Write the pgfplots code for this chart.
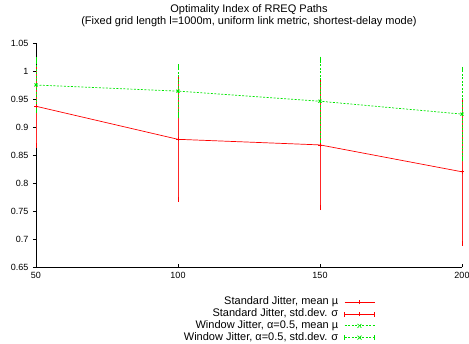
\documentclass[border=0pt]{standalone}
\usepackage{fontspec}
\setmainfont{Liberation Sans}
\usepackage{pgfplots}
\pgfplotsset{compat=1.18}
\definecolor{gred}{RGB}{255,0,0}
\definecolor{ggreen}{RGB}{0,230,0}
\begin{document}
\begin{tikzpicture}[x=1pt,y=1pt]
\useasboundingbox (-36,-77) rectangle (433,267);
\begin{axis}[
  at={(0,0)}, anchor=south west,
  scale only axis, width=426pt, height=224pt,
  xmin=50, xmax=200, ymin=0.65, ymax=1.05,
  axis lines*=left,
  axis line style={black, line width=0.8pt, -},
  xtick={50,100,150,200},
  ytick={0.65,0.7,0.75,0.8,0.85,0.9,0.95,1,1.05},
  yticklabels={0.65,0.7,0.75,0.8,0.85,0.9,0.95,1,1.05},
  xtick align=inside, ytick align=outside,
  major tick length=3pt,
  tick style={black, line width=0.5pt},
  ticklabel style={font=\fontsize{9}{10}\selectfont},
  /pgf/number format/assume math mode=true,
  xticklabel style={yshift=-2pt},
  yticklabel style={xshift=-1pt},
  title={Optimality Index of RREQ Paths\\(Fixed grid length l=1000m, uniform link metric, shortest-delay mode)},
  title style={align=center, font=\fontsize{11}{12}\selectfont, yshift=7pt},
  clip=false,
  legend style={at={(0.796,-0.133)}, anchor=north east, draw=none, fill=none,
    font=\fontsize{11}{12}\selectfont, legend plot pos=right, legend cell align=right,
    row sep=1.3pt, column sep=6pt, inner sep=0pt,
    nodes={inner sep=0pt, text height=8pt, text depth=2.5pt}, cells={anchor=east}},
]
\addplot[gred, line width=0.7pt, mark=+, mark size=2pt,
  legend image code/.code={\draw[gred, line width=0.7pt] (0pt,0pt) -- (30pt,0pt); \draw[gred, line width=0.7pt] (15pt,-2pt) -- (15pt,2pt);}]
  coordinates {(50,0.937) (100,0.878) (150,0.868) (200,0.820)};
\addlegendentry{Standard Jitter, mean µ}
\addplot[gred, line width=0.7pt, only marks, mark=+, mark size=2pt,
  legend image code/.code={\draw[gred, line width=0.7pt] (0pt,0pt) -- (30pt,0pt); \draw[gred, line width=0.7pt] (15pt,-2pt) -- (15pt,2pt); \draw[gred, line width=0.7pt] (0pt,-2.5pt) -- (0pt,2.5pt); \draw[gred, line width=0.7pt] (30pt,-2.5pt) -- (30pt,2.5pt);},
  error bars/.cd, y dir=both, y explicit, error mark=-, error mark options={gred, line width=0.7pt, mark size=2.5pt}, error bar style={gred!85, line width=0.7pt},
  ] coordinates {
  (50,0.937) +- (0,0.070)
  (100,0.878) +- (0,0.107)
  (150,0.868) +- (0,0.112)
  (200,0.820) +- (0,0.128)};
\addlegendentry{Standard Jitter, std.dev. σ}
\addplot[ggreen, line width=0.7pt, dash pattern=on 2pt off 1.5pt, mark=x, mark size=2pt, mark options={solid},
  legend image code/.code={\draw[ggreen, line width=0.7pt, dash pattern=on 2pt off 1.5pt] (0pt,0pt) -- (30pt,0pt); \draw[ggreen, line width=0.7pt] (13pt,-2pt) -- (17pt,2pt) (13pt,2pt) -- (17pt,-2pt);}]
  coordinates {(50,0.975) (100,0.964) (150,0.946) (200,0.923)};
\addlegendentry{Window Jitter, α=0.5, mean µ}
\addplot[ggreen, line width=0.7pt, only marks, mark=x, mark size=2pt,
  legend image code/.code={\draw[ggreen, line width=0.7pt, dash pattern=on 2pt off 1.5pt] (0pt,0pt) -- (30pt,0pt); \draw[ggreen, line width=0.7pt] (13pt,-2pt) -- (17pt,2pt) (13pt,2pt) -- (17pt,-2pt); \draw[ggreen, line width=0.7pt] (0pt,-2.5pt) -- (0pt,2.5pt); \draw[ggreen, line width=0.7pt] (30pt,-2.5pt) -- (30pt,2.5pt);},
  error bars/.cd, y dir=both, y explicit, error mark=-, error mark options={ggreen, line width=0.7pt, mark size=2.5pt}, error bar style={ggreen, line width=0.7pt, dash pattern=on 2pt off 1.5pt},
  ] coordinates {
  (50,0.975) +- (0,0.045)
  (100,0.964) +- (0,0.044)
  (150,0.946) +- (0,0.075)
  (200,0.923) +- (0,0.080)};
\addlegendentry{Window Jitter, α=0.5, std.dev. σ}
\end{axis}
\end{tikzpicture}
\end{document}
